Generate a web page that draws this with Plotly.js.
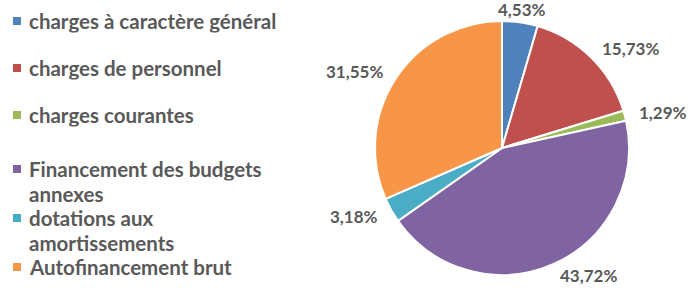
<!DOCTYPE html>
<html>
<head>
<meta charset="utf-8">
<script src="https://cdn.plot.ly/plotly-3.0.1.min.js"></script>
<style>html,body{margin:0;padding:0;background:#fff;}#chart{width:688px;height:293px;}</style>
</head>
<body>
<div id="chart"></div>
<script>
// ---- data ----
const categories = [
  "charges à caractère général",
  "charges de personnel",
  "charges courantes",
  "Financement des budgets<br>annexes",
  "dotations aux<br>amortissements",
  "Autofinancement brut"
];
const values = [4.53, 15.73, 1.29, 43.72, 3.18, 31.55];
const colors = ["#4F81BD", "#C0504D", "#9BBB59", "#8064A2", "#4BACC6", "#F79646"];

// ---- layout constants ----
const W = 688, H = 293;
const cx = 502, cy = 148, R = 127;
const FONT = "Lato, 'Open Sans', sans-serif";
const TXT = "#595959";
const FS_LEG = 20.5;
const FS_LAB = 17;
const legendRowTop = [21, 68, 115, 169, 218, 267];
const legendLineH = 25;
const legendBoxH = 23.5;

const px = x => x / W;
const py = y => 1 - y / H;

const trace = {
  type: "pie",
  labels: categories,
  values: values,
  sort: false,
  direction: "clockwise",
  rotation: 0,
  marker: { colors: colors, line: { color: "#ffffff", width: 2 } },
  textinfo: "none",
  hoverinfo: "label+percent",
  showlegend: false,
  domain: { x: [px(cx - R), px(cx + R)], y: [py(cy + R), py(cy - R)] }
};

const annotations = [];
const shapes = [];

// data labels, positioned from slice mid-angles
const total = values.reduce((a, b) => a + b, 0);
let cum = 0;
values.forEach((v, i) => {
  const mid = (cum + v / 2) / total * 2 * Math.PI;
  cum += v;
  const s = Math.sin(mid), c = Math.cos(mid);
  const rr = R * 1.1;
  const x = cx + rr * s;
  const y = Math.min(Math.max(cy - rr * c, 10), H - 10);
  let xa = "center";
  if (s > 0.3) xa = "left"; else if (s < -0.3) xa = "right";
  annotations.push({
    xref: "paper", yref: "paper", x: px(x), y: py(y),
    xanchor: xa, yanchor: "middle", showarrow: false,
    text: (v / total * 100).toFixed(2).replace(".", ",") + "%",
    font: { family: FONT, size: FS_LAB, color: TXT, weight: "bold" }
  });
});

// legend
categories.forEach((name, i) => {
  const top = legendRowTop[i];
  shapes.push({
    type: "rect", xref: "paper", yref: "paper",
    x0: px(13), x1: px(21), y0: py(top - 4), y1: py(top + 4),
    fillcolor: colors[i], line: { width: 0 }
  });
  name.split("<br>").forEach((line, k) => {
    annotations.push({
      xref: "paper", yref: "paper", x: px(27), y: py(top + k * legendLineH),
      xanchor: "left", yanchor: "middle", showarrow: false,
      height: legendBoxH, valign: "middle",
      text: line,
      font: { family: FONT, size: FS_LEG, color: TXT, weight: "bold" }
    });
  });
});

const layout = {
  width: W, height: H,
  margin: { l: 0, r: 0, t: 0, b: 0 },
  paper_bgcolor: "#ffffff",
  showlegend: false,
  annotations: annotations,
  shapes: shapes
};

Plotly.newPlot("chart", [trace], layout, { displayModeBar: false, staticPlot: true });
</script>
</body>
</html>
